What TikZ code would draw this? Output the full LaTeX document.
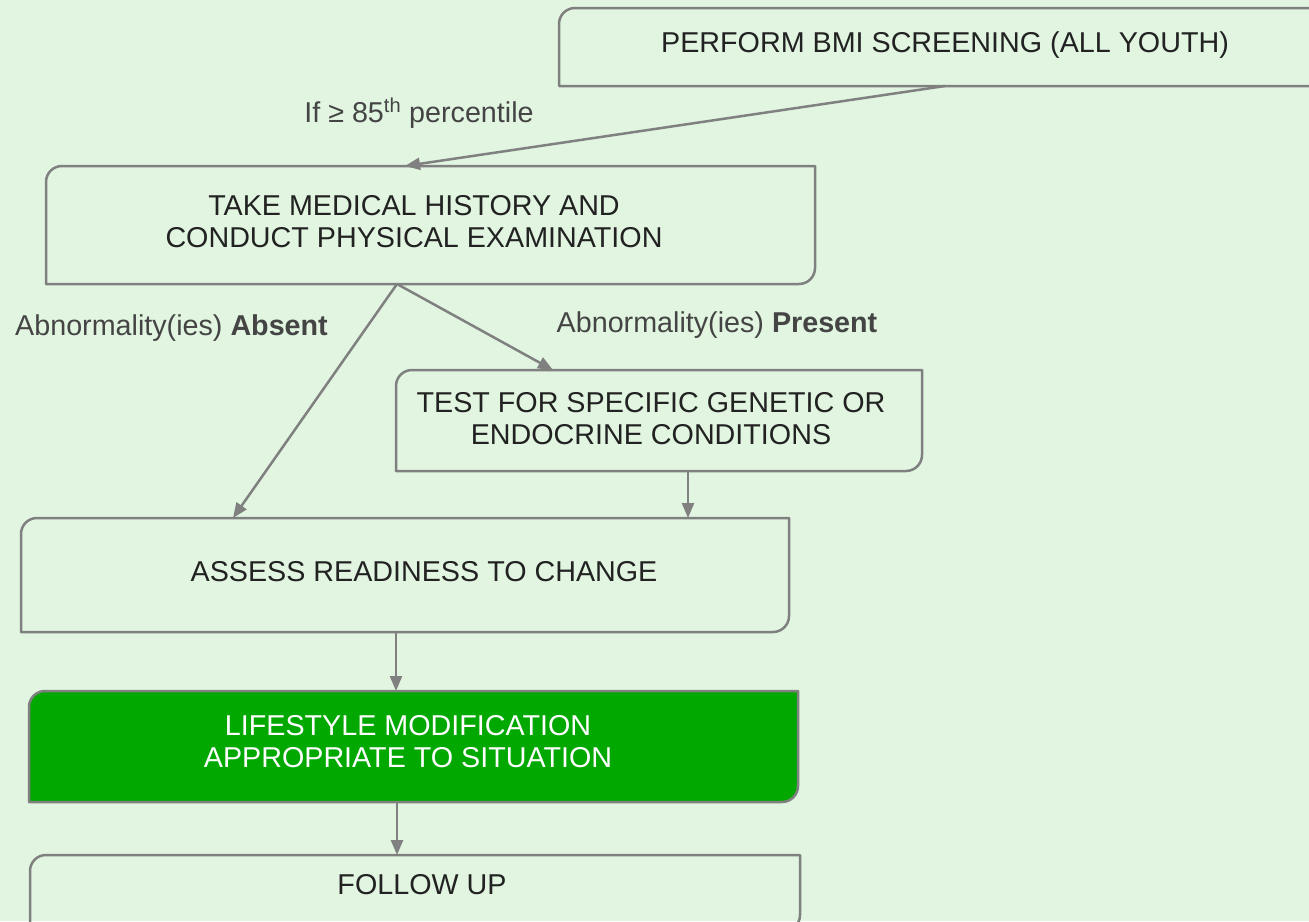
\documentclass[tikz,border=0pt]{standalone}
\usepackage{fontspec}
\setmainfont{Liberation Sans}
\usetikzlibrary{arrows.meta,calc}
\definecolor{bgc}{HTML}{E1F5E1}
\definecolor{linec}{HTML}{808080}
\definecolor{txtc}{HTML}{222222}
\definecolor{lblc}{HTML}{444444}
\definecolor{greenc}{HTML}{00A800}
\newcommand\cornerbox[2][]{\path[boxline,#1] (#2.south west) -- ([yshift=-16pt]#2.north west) arc[start angle=180,end angle=90,radius=16pt] -- (#2.north east) -- ([yshift=16pt]#2.south east) arc[start angle=0,end angle=-90,radius=16pt] -- cycle;}
\begin{document}
\begin{tikzpicture}[x=1pt,y=-1pt,
  boxshape/.style={draw=none,inner sep=0pt,outer sep=0pt,rectangle},
  boxline/.style={draw=linec,line width=2.5pt,line join=round},
  boxtext/.style={inner sep=0pt,text=txtc,font=\fontsize{28.7}{32}\selectfont,align=center},
  lbl/.style={inner sep=0pt,text=lblc,font=\fontsize{28.7}{32}\selectfont,anchor=base},
  arr/.style={draw=linec,line width=2.5pt,-{Triangle[length=15pt,width=12pt]}}]
\useasboundingbox (0,0) rectangle (1309,921);
\clip (0,0) rectangle (1309,921);
\fill[bgc] (0,0) rectangle (1309,921);
% box shapes
\node[boxshape,minimum width=772pt,minimum height=78pt] (bmi) at (945,47) {};
\node[boxshape,minimum width=769pt,minimum height=118pt] (hist) at (430.5,225) {};
\node[boxshape,minimum width=526pt,minimum height=101pt] (test) at (659,420.5) {};
\node[boxshape,minimum width=768pt,minimum height=114pt] (assess) at (405,575) {};
\node[boxshape,minimum width=769pt,minimum height=111pt] (life) at (413.5,746.5) {};
\node[boxshape,minimum width=770pt,minimum height=76pt] (follow) at (415,893) {};
\cornerbox{bmi}
\cornerbox{hist}
\cornerbox{test}
\cornerbox{assess}
\cornerbox[fill=greenc]{life}
\cornerbox{follow}
% box texts
\node[boxtext,anchor=base] (bmi-t) at (945,52) {PERFORM BMI SCREENING (ALL YOUTH)};
\node[boxtext] (hist-t) at (414,221.2) {TAKE MEDICAL HISTORY AND\\CONDUCT PHYSICAL EXAMINATION};
\node[boxtext] (test-t) at (651,418.7) {TEST FOR SPECIFIC GENETIC OR\\ENDOCRINE CONDITIONS};
\node[boxtext,anchor=base] (assess-t) at (424,581) {ASSESS READINESS TO CHANGE};
\node[boxtext,text=white] (life-t) at (408,741.2) {LIFESTYLE MODIFICATION\\APPROPRIATE TO SITUATION};
\node[boxtext,anchor=base] (follow-t) at (422,894) {FOLLOW UP};
% labels
\node[lbl] (l-if) at (419,122) {If ≥ 85\textsuperscript{th} percentile};
\node[lbl] (l-abs) at (171.5,335) {Abnormality(ies) \textbf{Absent}};
\node[lbl] (l-pre) at (717,332) {Abnormality(ies) \textbf{Present}};
% connectors
\draw[arr] (bmi.south) -- ([xshift=-25.5pt]hist.north);
\draw[arr] ([xshift=-33.5pt]hist.south) -- ([xshift=-172pt]assess.north);
\draw[arr] ([xshift=-33.5pt]hist.south) -- ([xshift=-106pt]test.north);
\draw[arr] ([xshift=29pt]test.south) -- ([xshift=29pt]test.south |- assess.north);
\draw[arr] ([xshift=-9pt]assess.south) -- ([xshift=-9pt]assess.south |- life.north);
\draw[arr] ([xshift=-16.5pt]life.south) -- ([xshift=-16.5pt]life.south |- follow.north);
\end{tikzpicture}
\end{document}
